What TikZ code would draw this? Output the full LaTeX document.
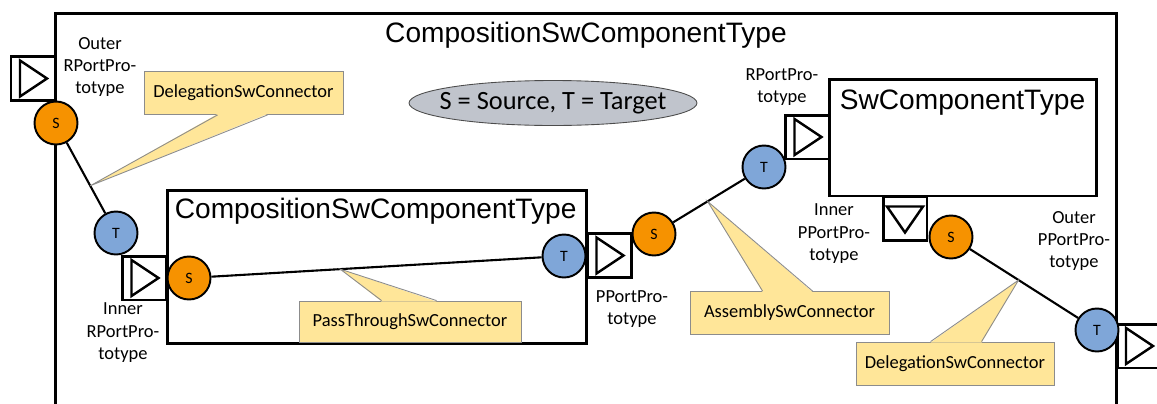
\documentclass[tikz,border=0pt]{standalone}
\usepackage{fontspec}
\setmainfont{Carlito}
\newfontfamily\arialfont{Liberation Sans}
\usepackage{tikz}
\usetikzlibrary{positioning,calc,shapes.geometric}
\definecolor{srcorange}{RGB}{246,146,0}
\definecolor{tgtblue}{RGB}{127,166,216}
\definecolor{noteyellow}{RGB}{255,230,153}
\definecolor{notegray}{RGB}{140,140,140}
\definecolor{legendgray}{RGB}{192,196,204}

\begin{document}
\begin{tikzpicture}[x=0.02cm, y=-0.02cm,
  compbox/.style={draw, line width=1.7pt, inner sep=0pt},
  ctitle/.style={font=\arialfont\fontsize{16}{19}\selectfont, inner sep=0pt},
  port/.style={draw, fill=white, line width=1.7pt, minimum width=0.88cm, minimum height=0.88cm, inner sep=0pt},
  tri/.style={line width=1.4pt},
  src/.style={circle, draw, line width=1.1pt, fill=srcorange, minimum size=0.86cm, inner sep=0pt,
              font=\fontsize{9}{10}\selectfont},
  tgt/.style={src, fill=tgtblue},
  conn/.style={line width=1.2pt},
  note/.style={draw=notegray, line width=0.5pt, fill=noteyellow, minimum height=0.86cm, inner sep=0pt,
               font=\fontsize{10.5}{12.8}\selectfont},
  plabel/.style={align=center, inner sep=0pt, font=\fontsize{10.5}{12.8}\selectfont}]
\useasboundingbox (0,0) rectangle (1157,403);
\clip (0,0) rectangle (1157,403);
% components
\node[compbox, minimum width=21.24cm, minimum height=8.6cm] (outer) at (586,228) {};
\node[ctitle, anchor=base] (outertitle) at (586,42) {CompositionSwComponentType};
\node[compbox, minimum width=8.4cm, minimum height=3.08cm] (inner) at (377,267) {};
\node[ctitle, anchor=base west] (innertitle) at ($(inner.north west)+(9,30)$) {CompositionSwComponentType};
\node[compbox, minimum width=5.36cm, minimum height=2.34cm] (swc) at (963,137.5) {};
\node[ctitle, anchor=base west] (swctitle) at ($(swc.north west)+(12,32)$) {SwComponentType};
\node[ellipse, draw=black!70, line width=0.5pt, fill=legendgray, minimum width=5.76cm, minimum height=0.9cm] (legend) at (553,103) {};
\node[font=\fontsize{15}{18}\selectfont] (legendtxt) at (legend) {S = Source, T = Target};
% ports
\node[port] (orp) at (33,78.5) {};
\node[port] (irp) at (144.5,278) {};
\node[port] (ppt) at (609.5,255.5) {};
\node[port] (rpt) at (807.5,137) {};
\node[port] (ipp) at (905,218.5) {};
\node[port] (opp) at (1139,346) {};
\foreach \p in {orp,irp,ppt,rpt,opp}
  \draw[tri] ($(\p)+(-13,-18)$) -- ($(\p)+(14,0)$) -- ($(\p)+(-13,18)$) -- cycle;
\draw[tri] ($(ipp)+(-18,-12)$) -- ($(ipp)+(18,-12)$) -- ($(ipp)+(0,14)$) -- cycle;
\node[plabel] (orplbl) at (100,67) {Outer\\RPortPro-\\totype};
\node[plabel] (irplbl) at (123,333) {Inner\\RPortPro-\\totype};
\node[plabel] (pptlbl) at (632,309) {PPortPro-\\totype};
\node[plabel] (rptlbl) at (782,87) {RPortPro-\\totype};
\node[plabel] (ipplbl) at (834,234) {Inner\\PPortPro-\\totype};
\node[plabel] (opplbl) at (1074,241) {Outer\\PPortPro-\\totype};
% source / target ends
\node[src] (s1) at (56,123) {S};
\node[tgt] (t1) at (116,233) {T};
\node[src] (s2) at (189,278) {S};
\node[tgt] (t2) at (564,256) {T};
\node[src] (s3) at (654,234) {S};
\node[tgt] (t3) at (764,167) {T};
\node[src] (s4) at (951,237) {S};
\node[tgt] (t4) at (1097,330) {T};
\draw[conn] (s1) -- coordinate[pos=0.61] (tip1) (t1);
\draw[conn] (s2) -- coordinate[pos=0.39] (tip2) (t2);
\draw[conn] (s3) -- coordinate[pos=0.48] (tip3) (t3);
\draw[conn] (s4) -- coordinate[pos=0.45] (tip4) (t4);
% callouts
\node[note, minimum width=3.98cm] (dc1) at (243.5,93) {DelegationSwConnector};
\node[note, minimum width=4.44cm, minimum height=0.82cm] (pt) at (410,321.5) {PassThroughSwConnector};
\node[note, minimum width=3.98cm] (asm) at (789.5,313) {AssemblySwConnector};
\node[note, minimum width=3.96cm] (dc2) at (955,363.5) {DelegationSwConnector};
\fill[noteyellow] ($(dc1.south west)+(74,-1)$) -- (tip1) -- ($(dc1.south west)+(124,-1)$) -- cycle;
\draw[notegray, line width=0.5pt] ($(dc1.south west)+(74,0)$) -- (tip1) -- ($(dc1.south west)+(124,0)$);
\foreach \n/\t/\a/\b in {pt/tip2/83/138, asm/tip3/73/123, dc2/tip4/75/126} {
  \fill[noteyellow] ($(\n.north west)+(\a,1)$) -- (\t) -- ($(\n.north west)+(\b,1)$) -- cycle;
  \draw[notegray, line width=0.5pt] ($(\n.north west)+(\a,0)$) -- (\t) -- ($(\n.north west)+(\b,0)$);
}
\end{tikzpicture}
\end{document}
